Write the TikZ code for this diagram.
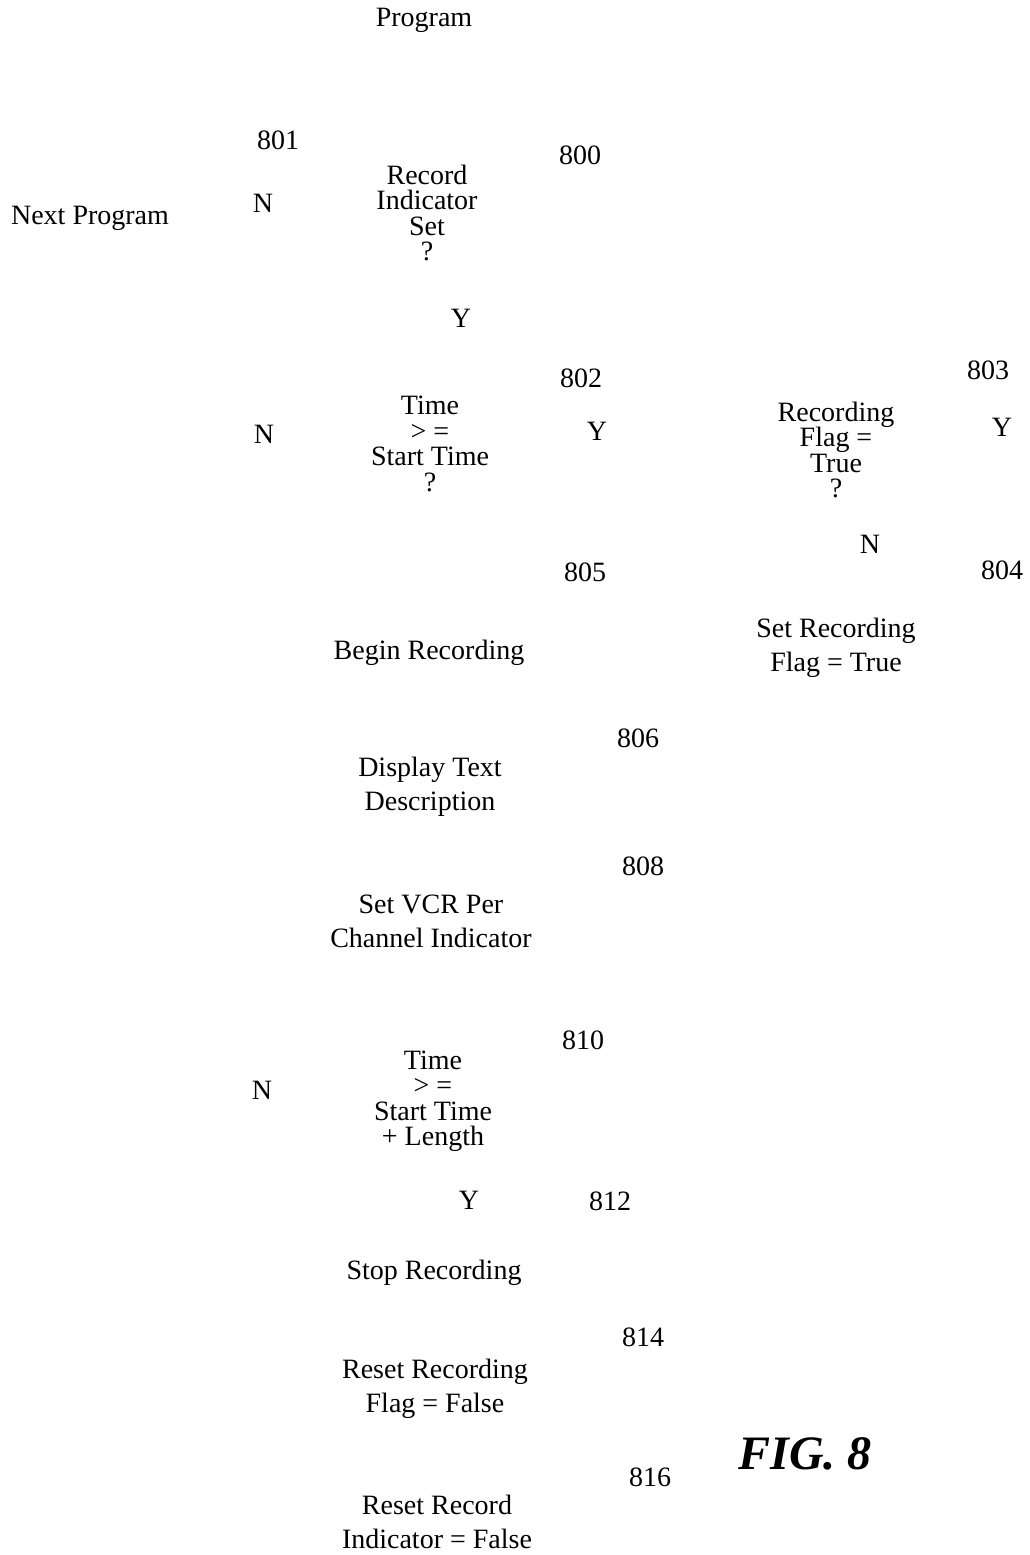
\documentclass[tikz,border=0pt]{standalone}
\usepackage{fontspec}
\setmainfont{Liberation Serif}
\usepackage{tikz}
\tikzset{
  txt/.style={inner sep=0pt, align=center, font=\fontsize{28}{34}\selectfont},
  test/.style={inner sep=0pt, align=center, font=\fontsize{28}{25.5}\selectfont},
  num/.style={inner sep=0pt, font=\fontsize{28}{30}\selectfont},
  yn/.style={inner sep=0pt, font=\fontsize{28}{30}\selectfont}
}

\begin{document}
\begin{tikzpicture}[x=1pt, y=-1pt]
  \useasboundingbox (0,0) rectangle (1029,1555);
  \node[txt] (prog) at (424,20) {Program};
  \node[num] (n801) at (278,140) {801};
  \node[num] (n800) at (580,155) {800};
  \node[test] (recset) at (427,213) {Record\\Indicator\\Set\\?};
  \node[yn] (recn) at (263,203) {N};
  \node[txt] (next) at (90,218) {Next Program};
  \node[yn] (recy) at (461,318) {Y};
  % start time test
  \node[num] (n802) at (581,378) {802};
  \node[test] (start) at (430,444) {Time\\> =\\Start Time\\?};
  \node[yn] (startn) at (264,434) {N};
  \node[yn] (starty) at (597,431) {Y};
  % recording flag test
  \node[num] (n803) at (988,370) {803};
  \node[test] (flag) at (836,450) {Recording\\Flag =\\True\\?};
  \node[yn] (flagy) at (1002,427) {Y};
  \node[yn] (flagn) at (870,544) {N};
  \node[num] (n805) at (585,572) {805};
  \node[num] (n804) at (1002,570) {804};
  \node[txt] (begin) at (429,653) {Begin Recording};
  \node[txt] (setflag) at (836,648) {Set Recording\\Flag = True};
  \node[num] (n806) at (638,738) {806};
  \node[txt] (disp) at (430,787) {Display Text\\Description};
  \node[num] (n808) at (643,866) {808};
  \node[txt] (vcr) at (431,921) {Set VCR Per\\Channel Indicator};
  % end time test
  \node[num] (n810) at (583,1040) {810};
  \node[test] (endt) at (433,1101) {Time\\> =\\Start Time\\+ Length};
  \node[yn] (endn) at (262,1090) {N};
  \node[yn] (endy) at (469,1200) {Y};
  \node[num] (n812) at (610,1201) {812};
  \node[txt] (stop) at (434,1273) {Stop Recording};
  \node[num] (n814) at (643,1337) {814};
  \node[txt] (resflag) at (435,1389) {Reset Recording\\Flag = False};
  \node[inner sep=0pt, font=\fontsize{48}{50}\selectfont\bfseries\itshape] (fig) at (805,1454) {FIG. 8};
  \node[num] (n816) at (650,1477) {816};
  \node[txt] (resind) at (437,1522) {Reset Record\\Indicator = False};
\end{tikzpicture}
\end{document}
